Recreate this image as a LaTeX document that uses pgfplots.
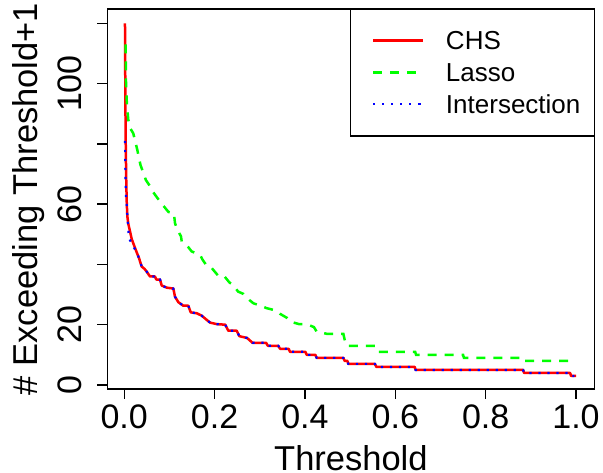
\documentclass[border=0pt]{standalone}
\usepackage{fontspec}
\setmainfont{Liberation Sans}
\usepackage{pgfplots}
\pgfplotsset{compat=1.18}
\definecolor{rred}{RGB}{255,0,0}
\definecolor{rgreen}{RGB}{0,255,0}
\definecolor{rblue}{RGB}{0,0,255}
\newcommand{\tickfont}{\fontsize{34}{40}\selectfont}
\newcommand{\labfont}{\fontsize{34.5}{40}\selectfont}
\pgfplotsset{legend image code/.code={\path[draw=none] (0pt,0pt) -- (95.3pt,0pt); \draw[#1] (22.6pt,0pt) -- (72.6pt,0pt);}}
\begin{document}
\begin{tikzpicture}
\begin{axis}[
  at={(107.5pt,83pt)}, anchor=south west,
  scale only axis, width=486.8pt, height=380pt,
  xmin=-0.037, xmax=1.0405, ymin=-1.33, ymax=124.75,
  axis line style={line width=1.4pt},
  every tick/.style={black, line width=1.4pt},
  tick align=inside, major tick length=-10pt,
  xtick pos=lower, ytick pos=lower,
  xtick={0,0.2,0.4,0.6,0.8,1},
  xticklabels={0.0,0.2,0.4,0.6,0.8,1.0},
  ytick={0,20,40,60,80,100,120},
  yticklabels={0,20,,60,,100,},
  xticklabel style={font=\tickfont, inner sep=0pt, anchor=base, yshift=-39pt},
  yticklabel style={font=\tickfont, inner sep=0pt, xshift=-25.5pt, rotate=90, anchor=base},
  xlabel={Threshold}, ylabel={\# Exceeding Threshold+1},
  xlabel style={font=\labfont, inner sep=0pt, at={(axis description cs:0.5,-0.2132)}, anchor=base},
  ylabel style={font=\labfont, inner sep=0pt, at={(axis description cs:-0.1428,0.5)}, anchor=base},
  legend cell align=left,
  legend style={at={(1,1)}, anchor=north east, draw=black, line width=1.4pt, fill=white,
    outer sep=0pt, inner xsep=0pt, inner ysep=15.85pt, row sep=0pt, column sep=0pt,
    font=\fontsize{26}{30}\selectfont,
    nodes={inner sep=0pt, text height=25.15pt, text depth=6.55pt, anchor=west},
    cells={anchor=west}},
]
\addplot[rred, line width=2.5pt, line join=round]
coordinates {
(0.0017,120) (0.0022,105) (0.0028,90) (0.0035,78) (0.0045,68) (0.0055,61) (0.0069,56)
(0.009,53.5) (0.0128,51) (0.0165,48.5) (0.0201,47) (0.0277,44) (0.033,42) (0.035,41)
(0.0387,39.3) (0.045,38.5) (0.0498,37.6) (0.0571,36) (0.068,36) (0.071,35) (0.0792,35)
(0.083,33) (0.094,32.3) (0.1087,32) (0.1124,29.3) (0.1197,27.5) (0.1308,26.3) (0.1419,26.3)
(0.1472,24.1) (0.1605,23.8) (0.1715,23) (0.181,21.8) (0.19,20.7) (0.2047,20.2) (0.2236,20)
(0.2304,18) (0.249,18) (0.2548,16.2) (0.272,15.6) (0.284,14) (0.314,14) (0.318,13)
(0.341,13) (0.345,12) (0.364,12) (0.367,11) (0.401,11) (0.404,10) (0.423,10) (0.426,9)
(0.485,9) (0.488,8) (0.494,8) (0.496,7) (0.555,7) (0.558,6) (0.643,6) (0.645,5)
(0.883,5) (0.885,4) (0.987,4) (0.989,3) (1.0,3)
};
\addlegendentry{\makebox[148.3pt][l]{CHS}}
\addplot[rgreen, line width=2.5pt, dash pattern=on 9pt off 8pt]
coordinates {
(0.003,113) (0.004,100) (0.006,93) (0.009,88) (0.014,85) (0.02,83.5) (0.029,78) (0.036,73)
(0.048,68) (0.057,66) (0.064,64) (0.081,60.5) (0.098,57.4) (0.11,57) (0.1124,53.7)
(0.1161,52) (0.1257,49.3) (0.1273,47.6) (0.1419,45.7) (0.1494,44.3) (0.1678,43.2)
(0.1737,41.5) (0.1839,39.3) (0.1937,38.8) (0.2083,36.2) (0.221,36.2) (0.233,34)
(0.241,33.2) (0.252,31) (0.264,30.2) (0.277,28.2) (0.286,27.1) (0.304,26.2) (0.315,25.5)
(0.336,24.7) (0.345,23.6) (0.361,22.2) (0.368,21) (0.387,20.2) (0.404,20.2) (0.42,19.2)
(0.426,17.7) (0.448,17) (0.485,17) (0.488,15) (0.492,13) (0.556,13) (0.562,11)
(0.644,11) (0.646,10) (0.75,10) (0.752,9) (0.875,9) (0.877,8) (0.989,8) (0.993,7)
};
\addlegendentry{\makebox[148.3pt][l]{Lasso}}
\addplot[rblue, line width=2.2pt, dash pattern=on 2.2pt off 6.8pt]
coordinates {
(0.0017,81) (0.0025,72) (0.0035,63.7) (0.0068,57) (0.009,51.5) (0.0106,48.7) (0.0166,47)
(0.0201,46) (0.0277,44) (0.033,42) (0.035,41)
(0.0387,39.3) (0.045,38.5) (0.0498,37.6) (0.0571,36) (0.068,36) (0.071,35) (0.0792,35)
(0.083,33) (0.094,32.3) (0.1087,32) (0.1124,29.3) (0.1197,27.5) (0.1308,26.3) (0.1419,26.3)
(0.1472,24.1) (0.1605,23.8) (0.1715,23) (0.181,21.8) (0.19,20.7) (0.2047,20.2) (0.2236,20)
(0.2304,18) (0.249,18) (0.2548,16.2) (0.272,15.6) (0.284,14) (0.314,14) (0.318,13)
(0.341,13) (0.345,12) (0.364,12) (0.367,11) (0.401,11) (0.404,10) (0.423,10) (0.426,9)
(0.485,9) (0.488,8) (0.494,8) (0.496,7) (0.555,7) (0.558,6) (0.643,6) (0.645,5)
(0.883,5) (0.885,4) (0.987,4) (0.989,3) (1.0,3)
};
\addlegendentry{\makebox[148.3pt][l]{Intersection}}
\end{axis}
\pgfresetboundingbox
\useasboundingbox (0,0) rectangle (603pt,472pt);
\end{tikzpicture}
\end{document}
